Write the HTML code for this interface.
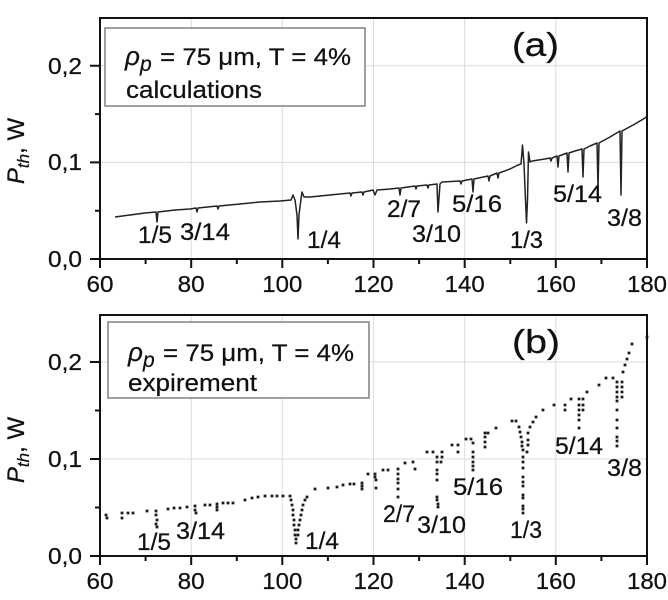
<!DOCTYPE html>
<html>
<head>
<meta charset="utf-8">
<style>
html,body{margin:0;padding:0;background:#fff;}
svg{display:block;}
text{font-family:"Liberation Sans",Arial,sans-serif;fill:#111;stroke:#111;stroke-width:0.25px;}
</style>
</head>
<body>
<svg width="668" height="600" viewBox="0 0 668 600" xmlns="http://www.w3.org/2000/svg" font-size="22">
<rect width="668" height="600" fill="#fff"/>

<!-- ===== PANEL A ===== -->
<g stroke="#dcdcdc" stroke-width="1" fill="none">
  <path d="M191.2 18V259M282.3 18V259M373.5 18V259M464.7 18V259M555.8 18V259M100 162.4H647M100 65.8H647"/>
</g>
<!-- legend a -->
<rect x="105" y="28" width="260" height="78" fill="#fff" stroke="#808080" stroke-width="1.5"/>
<text x="125" y="65" style="font-style:italic;font-size:26px">ρ</text>
<text x="140" y="71" style="font-style:italic;font-size:21px">p</text>
<text x="160" y="65" style="font-size:24px" textLength="191" lengthAdjust="spacingAndGlyphs">= 75 μm, T = 4%</text>
<text x="126" y="98" style="font-size:24px" textLength="136" lengthAdjust="spacingAndGlyphs">calculations</text>
<text x="512" y="56" style="font-size:33px" textLength="47" lengthAdjust="spacingAndGlyphs">(a)</text>

<!-- curve a -->
<path fill="none" stroke="#222" stroke-width="1.5" stroke-linejoin="round" d="M115,217 L130,215 L145,213 L156,212 L157,222 L158,212 L175,210 L190,209 L196,208 L197,212 L198,208 L217,206 L218,209 L219,206 L240,204 L260,202 L280,201 L291,200 L293,195 L295,200 L297,215 L298,239 L299,215 L301,199 L302,192 L304,197 L310,197 L330,195 L350,193 L351,196 L352,193 L362,192 L363,195 L364,192 L373,190 L375,195 L377,190 L390,189 L399,188 L400,195 L401,188 L415,186 L416,189 L417,186 L427,185 L428,188 L429,185 L437,184 L438,212 L440,184 L442,182 L460,181 L461,184 L462,181 L472,179 L473,192 L474,179 L488,176 L489,181 L490,176 L497,173 L498,178 L499,173 L510,169 L518,165 L521,164 L522.5,145 L524,164 L525.5,200 L526.5,223 L527.5,200 L528.5,152 L530,162 L532,161 L545,159 L550,158 L551,161 L552,158 L557,156 L558,167 L559,156 L567,153 L568,172 L569,153 L575,151 L582,149 L583,177 L584,149 L590,146 L597,143 L598,188 L599,143 L610,137 L620,131 L621,195 L622,131 L635,124 L645,118 L647,116"/>

<!-- labels a -->
<g style="font-size:24px">
<text x="138" y="243" textLength="34" lengthAdjust="spacingAndGlyphs">1/5</text>
<text x="180" y="240" textLength="50" lengthAdjust="spacingAndGlyphs">3/14</text>
<text x="307" y="248" textLength="34" lengthAdjust="spacingAndGlyphs">1/4</text>
<text x="387" y="217" textLength="34" lengthAdjust="spacingAndGlyphs">2/7</text>
<text x="412" y="242" textLength="49" lengthAdjust="spacingAndGlyphs">3/10</text>
<text x="452" y="212" textLength="50" lengthAdjust="spacingAndGlyphs">5/16</text>
<text x="510" y="248" textLength="33" lengthAdjust="spacingAndGlyphs">1/3</text>
<text x="553" y="202" textLength="49" lengthAdjust="spacingAndGlyphs">5/14</text>
<text x="607" y="226" textLength="35" lengthAdjust="spacingAndGlyphs">3/8</text>
</g>

<!-- frame & ticks a -->
<rect x="100" y="18" width="547" height="241" fill="none" stroke="#111" stroke-width="2"/>
<path stroke="#111" stroke-width="2" fill="none" d="M100 259V268M191.2 259V268M282.3 259V268M373.5 259V268M464.7 259V268M555.8 259V268M647 259V268M145.6 259V264M236.8 259V264M327.9 259V264M419.1 259V264M510.3 259V264M601.4 259V264M90 259H100M90 162.4H100M90 65.8H100M95 210.7H100M95 114.1H100"/>
<g style="font-size:23px">
<text x="48" y="267" textLength="34" lengthAdjust="spacingAndGlyphs">0,0</text>
<text x="48" y="170" textLength="34" lengthAdjust="spacingAndGlyphs">0,1</text>
<text x="48" y="74" textLength="34" lengthAdjust="spacingAndGlyphs">0,2</text>
<text x="86.5" y="292" textLength="27" lengthAdjust="spacingAndGlyphs">60</text>
<text x="177.7" y="292" textLength="27" lengthAdjust="spacingAndGlyphs">80</text>
<text x="262.3" y="292" textLength="40" lengthAdjust="spacingAndGlyphs">100</text>
<text x="353.5" y="292" textLength="40" lengthAdjust="spacingAndGlyphs">120</text>
<text x="444.7" y="292" textLength="40" lengthAdjust="spacingAndGlyphs">140</text>
<text x="535.8" y="292" textLength="40" lengthAdjust="spacingAndGlyphs">160</text>
<text x="627" y="292" textLength="40" lengthAdjust="spacingAndGlyphs">180</text>
</g>
<text transform="translate(24,151) rotate(-90)" text-anchor="middle" style="font-size:24px"><tspan style="font-style:italic">P</tspan><tspan style="font-style:italic;font-size:17px" dy="5">th</tspan><tspan dy="-5">, W</tspan></text>

<!-- ===== PANEL B ===== -->
<g stroke="#dcdcdc" stroke-width="1" fill="none">
  <path d="M191.2 315V556M282.3 315V556M373.5 315V556M464.7 315V556M555.8 315V556M100 459H647M100 362H647"/>
</g>
<rect x="108" y="322" width="261" height="76" fill="#fff" stroke="#808080" stroke-width="1.5"/>
<text x="128" y="361" style="font-style:italic;font-size:26px">ρ</text>
<text x="143" y="367" style="font-style:italic;font-size:21px">p</text>
<text x="163" y="361" style="font-size:24px" textLength="191" lengthAdjust="spacingAndGlyphs">= 75 μm, T = 4%</text>
<text x="128" y="391" style="font-size:24px" textLength="129" lengthAdjust="spacingAndGlyphs">expirement</text>
<text x="512" y="353" style="font-size:33px" textLength="48" lengthAdjust="spacingAndGlyphs">(b)</text>

<!-- dots b -->
<path fill="none" stroke="#1a1a1a" stroke-width="2.8" stroke-linecap="square" d="M106 515h0M107 518h0M122 513h0M122 518h0M128 513h0M133 513h0M147 511h0
M156 511h0M156 515h0M157 520h0M156 524h0M157 527h0
M168 509h0M174 508h0M180 508h0M187 507h0
M195 506h0M195 510h0M196 513h0
M205 505h0M210 505h0M217 504h0M217 507h0M217 510h0M223 503h0M228 503h0M233 503h0
M245 500h0M252 498h0M258 497h0M265 496h0M272 496h0M277 496h0M283 496h0M290 496h0
M291 500h0M292 505h0M293 510h0M293 515h0M294 520h0M294 525h0M295 530h0M295 535h0M296 539h0M296 543h0M298 535h0M298 530h0M299 525h0M300 520h0M301 515h0M302 510h0M303 505h0M305 500h0M307 497h0
M315 489h0M328 488h0M337 487h0M343 485h0M350 484h0M354 484h0
M362 483h0M362 486h0M362 489h0
M368 474h0M375 474h0M375 477h0M376 480h0M376 488h0
M383 470h0M388 470h0
M398 469h0M398 474h0M398 479h0M398 483h0M398 489h0M398 497h0
M405 463h0M413 462h0M415 469h0
M427 452h0M433 452h0
M437 457h0M437 462h0M437 470h0M437 474h0M437 480h0M437 497h0M437 500h0M438 504h0M438 507h0
M442 452h0M442 457h0M441 462h0
M452 445h0M458 445h0M458 452h0
M466 439h0M471 439h0
M473 443h0M473 452h0M473 457h0M473 462h0M473 466h0M473 470h0
M485 433h0M485 437h0M485 442h0M485 447h0M488 433h0
M496 428h0M512 421h0M516 421h0
M519 427h0M520 432h0M521 437h0M522 442h0M522 446h0M523 450h0M523 457h0M523 462h0M523 468h0M523 477h0M523 482h0M523 486h0M523 495h0M523 498h0M523 506h0M523 509h0M523 513h0
M527 452h0M528 445h0M528 440h0M528 433h0M530 427h0
M533 422h0M536 417h0M543 410h0M554 405h0
M565 405h0M565 410h0M571 399h0
M579 399h0M579 405h0M579 410h0M579 415h0M579 420h0M579 428h0M583 399h0M583 405h0M583 410h0
M587 392h0M599 385h0M606 378h0M613 378h0
M617 382h0M617 387h0M617 392h0M617 397h0M617 401h0M617 410h0M617 420h0M617 428h0M617 437h0M617 441h0M617 446h0
M622 382h0M622 387h0M622 392h0M622 397h0
M623 372h0M625 365h0M627 359h0M629 353h0M632 344h0M647 337h0"/>

<!-- labels b -->
<g style="font-size:24px">
<text x="137" y="550" textLength="34" lengthAdjust="spacingAndGlyphs">1/5</text>
<text x="176" y="539" textLength="49" lengthAdjust="spacingAndGlyphs">3/14</text>
<text x="305" y="549" textLength="34" lengthAdjust="spacingAndGlyphs">1/4</text>
<text x="383" y="522" textLength="32" lengthAdjust="spacingAndGlyphs">2/7</text>
<text x="417" y="533" textLength="49" lengthAdjust="spacingAndGlyphs">3/10</text>
<text x="453" y="495" textLength="50" lengthAdjust="spacingAndGlyphs">5/16</text>
<text x="510" y="538" textLength="32" lengthAdjust="spacingAndGlyphs">1/3</text>
<text x="555" y="454" textLength="48" lengthAdjust="spacingAndGlyphs">5/14</text>
<text x="607" y="476" textLength="35" lengthAdjust="spacingAndGlyphs">3/8</text>
</g>

<!-- frame & ticks b -->
<rect x="100" y="315" width="547" height="241" fill="none" stroke="#111" stroke-width="2"/>
<path stroke="#111" stroke-width="2" fill="none" d="M100 556V565M191.2 556V565M282.3 556V565M373.5 556V565M464.7 556V565M555.8 556V565M647 556V565M145.6 556V561M236.8 556V561M327.9 556V561M419.1 556V561M510.3 556V561M601.4 556V561M90 556H100M90 459H100M90 362H100M95 507.5H100M95 410.5H100"/>
<g style="font-size:23px">
<text x="48" y="564" textLength="34" lengthAdjust="spacingAndGlyphs">0,0</text>
<text x="48" y="467" textLength="34" lengthAdjust="spacingAndGlyphs">0,1</text>
<text x="48" y="370" textLength="34" lengthAdjust="spacingAndGlyphs">0,2</text>
<text x="86.5" y="589" textLength="27" lengthAdjust="spacingAndGlyphs">60</text>
<text x="177.7" y="589" textLength="27" lengthAdjust="spacingAndGlyphs">80</text>
<text x="262.3" y="589" textLength="40" lengthAdjust="spacingAndGlyphs">100</text>
<text x="353.5" y="589" textLength="40" lengthAdjust="spacingAndGlyphs">120</text>
<text x="444.7" y="589" textLength="40" lengthAdjust="spacingAndGlyphs">140</text>
<text x="535.8" y="589" textLength="40" lengthAdjust="spacingAndGlyphs">160</text>
<text x="627" y="589" textLength="40" lengthAdjust="spacingAndGlyphs">180</text>
</g>
<text transform="translate(24,450) rotate(-90)" text-anchor="middle" style="font-size:24px"><tspan style="font-style:italic">P</tspan><tspan style="font-style:italic;font-size:17px" dy="5">th</tspan><tspan dy="-5">, W</tspan></text>
</svg>
</body>
</html>
